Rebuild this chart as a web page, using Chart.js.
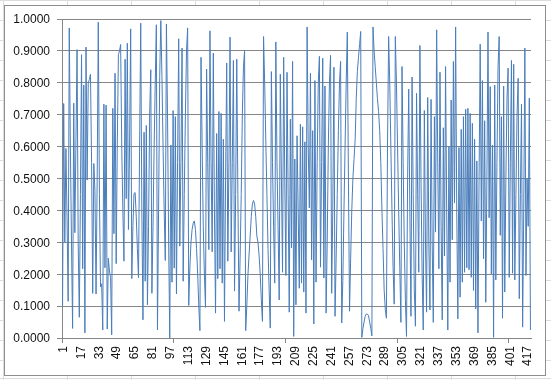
<!DOCTYPE html>
<html>
<head>
<meta charset="utf-8">
<title>Chart</title>
<script src="https://cdn.jsdelivr.net/npm/chart.js@4"></script>
<style>
    html, body { margin: 0; padding: 0; width: 551px; height: 380px; overflow: hidden; background: #fff; }
    /* worksheet cell lines around the chart */
    #sheet {
        position: absolute; left: 0; top: 0; width: 551px; height: 380px;
        background-image:
            linear-gradient(to bottom, transparent 378px, #dcdcdc 378px 379px, transparent 379px),
            repeating-linear-gradient(to right, transparent 0 3px, #dcdcdc 3px 4px, transparent 4px 64px),
            repeating-linear-gradient(to bottom, #dcdcdc 0 1px, transparent 1px 20px);
    }
    #frame {
        position: absolute; left: 4px; top: 5px; width: 540px; height: 369px;
        background: #fff; border: 1px solid #8e8e8e;
    }
    #wrap { position: absolute; left: 0; top: 0; width: 551px; height: 380px; }
</style>
</head>
<body>
<div id="sheet"></div>
<div id="frame"></div>
<div id="wrap"><canvas id="chart" width="551" height="380"></canvas></div>
<script>
// Values, ten categories per row
const values = [
    .10, .735, .30, .594, .38, .115, .972, .60, .30, .03,
    .736, .33, .62, .904, .30, .065, .45, .888, .217, .793,
    .016, .912, .495, .80, .81, .827, .55, .14, .547, .46,
    .138, .50, .99, .45, .16, .17, .025, .733, .22, .73,
    .028, .25, .21, .19, .01, .72, .327, .83, .233, .60,
    .888, .90, .92, .60, .40, .241, .874, .437, .924, .34,
    .60, .969, .186, .35, .453, .456, .38, .28, .189, .60,
    .987, .40, .057, .645, .178, .666, .104, .35, .70, .841,
    .14, .35, .60, .80, .982, .025, .40, .82, .995, .82,
    .60, .40, .243, .984, .70, .30, .00, .605, .175, .713,
    .219, .694, .138, .55, .938, .288, .55, .909, .178, .45,
    .70, .90, .972, .102, .22, .30, .34, .36, .367, .34,
    .28, .20, .10, .023, .88, .60, .35, .20, .096, .843,
    .55, .277, .963, .55, .27, .893, .40, .078, .641, .186,
    .71, .217, .704, .172, .623, .052, .50, .862, .241, .55,
    .943, .27, .55, .87, .147, .45, .874, .45, .084, .25,
    .45, .70, .85, .901, .023, .10, .196, .26, .32, .38,
    .42, .431, .42, .38, .32, .30, .26, .20, .12, .052,
    .945, .80, .62, .45, .28, .15, .031, .835, .55, .35,
    .172, .928, .55, .35, .119, .827, .50, .206, .88, .50,
    .196, .833, .45, .081, .686, .283, .867, .005, .561, .104,
    .634, .40, .156, .67, .172, .662, .144, .615, .078, .975,
    .60, .408, .83, .245, .65, .044, .807, .175, .55, .80,
    .883, .222, .55, .877, .188, .79, .078, .30, .60, .80,
    .886, .14, .40, .849, .068, .25, .45, .65, .80, .867,
    .047, .18, .40, .60, .80, .959, .50, .084, .25, .40,
    .50, .56, .62, .75, .835, .88, .92, .961, .002, .03,
    .05, .068, .075, .075, .07, .05, .03, .007, .975, .90,
    .85, .80, .75, .71, .65, .55, .40, .28, .15, .09,
    .062, .60, .945, .80, .60, .40, .22, .106, .945, .80,
    .60, .40, .22, .049, .851, .55, .30, .12, .005, .50,
    .78, .40, .068, .818, .45, .15, .037, .767, .45, .206,
    .917, .50, .20, .025, .713, .30, .081, .754, .30, .088,
    .748, .30, .049, .694, .332, .966, .55, .217, .833, .35,
    .057, .659, .257, .851, .40, .025, .60, .175, .746, .308,
    .867, .423, .975, .40, .06, .597, .128, .654, .175, .694,
    .206, .717, .22, .72, .214, .704, .19, .673, .149, .623,
    .091, .555, .016, .50, .921, .367, .807, .248, .681, .112,
    .50, .959, .377, .788, .201, .605, .002, .793, .182, .55,
    .85, .945, .322, .694, .062, .79, .144, .50, .75, .846,
    .19, .55, .87, .203, .858, .182, .45, .70, .814, .123,
    .45, .733, .034, .40, .909, .196, .50, .35, .752, .025,
];
const categories = values.map((v, i) => String(i + 1));

const labelEvery = 16;
const tickMarkEvery = 100;
const gridColor = '#868686';
const lineColor = '#4a7ebb';
const font = {family: '"Liberation Sans", Arial, sans-serif', size: 12};

new Chart(document.getElementById('chart'), {
    type: 'line',
    data: {
        labels: categories,
        datasets: [{
            data: values,
            borderColor: lineColor,
            borderWidth: 1,
            pointRadius: 0,
            tension: 0,
            fill: false,
        }],
    },
    options: {
        responsive: false,
        animation: false,
        layout: {padding: {top: 19, right: 20, left: 0, bottom: 0}},
        plugins: {legend: {display: false}, tooltip: {enabled: false}},
        scales: {
            x: {
                offset: true,
                afterFit: function(scale) { scale.height = 42; },
                border: {color: gridColor},
                grid: {
                    offset: true,
                    tickLength: 5,
                    color: 'transparent',
                    tickColor: (ctx) => (ctx.index % tickMarkEvery === 0 ? gridColor : 'transparent'),
                },
                ticks: {
                    autoSkip: false,
                    minRotation: 90,
                    maxRotation: 90,
                    padding: 3,
                    labelOffset: 1,
                    color: '#111',
                    font: font,
                    callback: function(value, index) {
                        return index % labelEvery === 0 ? this.getLabelForValue(value) : '';
                    },
                },
            },
            y: {
                min: 0,
                max: 1,
                afterFit: function(scale) { scale.width = 62; },
                border: {color: gridColor},
                grid: {color: gridColor, tickLength: 5},
                ticks: {
                    stepSize: 0.1,
                    padding: 7,
                    labelOffset: 1,
                    color: '#111',
                    font: font,
                    callback: (value) => value.toFixed(4),
                },
            },
        },
    },
});
</script>
</body>
</html>
